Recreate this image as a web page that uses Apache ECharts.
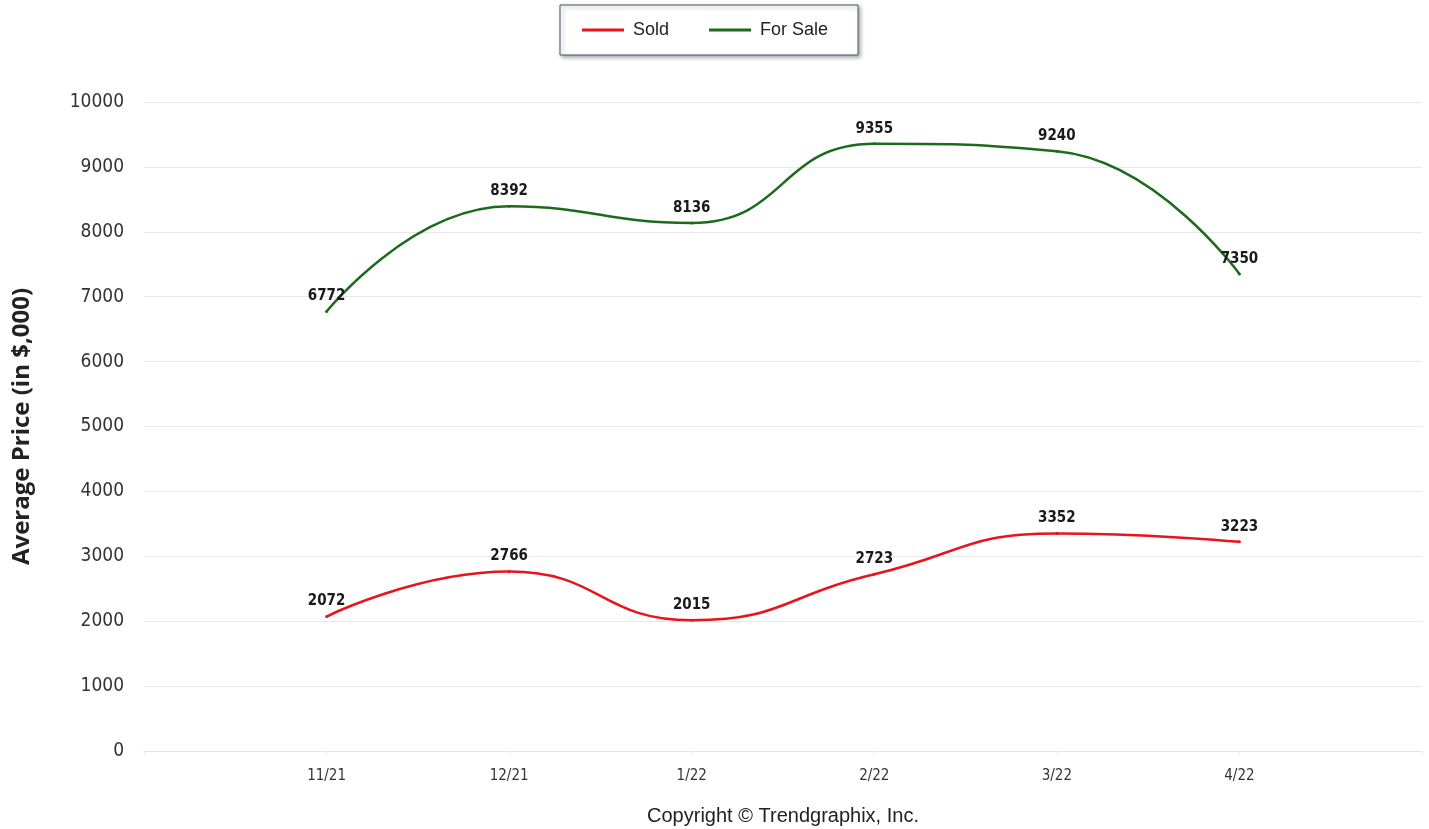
<!DOCTYPE html>
<html>
<head>
<meta charset="utf-8">
<script src="https://cdn.jsdelivr.net/npm/echarts@6/dist/echarts.min.js"></script>
<style>
html,body{margin:0;padding:0;background:#fff;}
#chart{width:1429px;height:829px;}
</style>
</head>
<body>
<div id="chart"></div>
<script>
var categories = ['11/21', '12/21', '1/22', '2/22', '3/22', '4/22'];
var soldValues = [2072, 2766, 2015, 2723, 3352, 3223];
var forSaleValues = [6772, 8392, 8136, 9355, 9240, 7350];
var yTicks = [0, 1000, 2000, 3000, 4000, 5000, 6000, 7000, 8000, 9000, 10000];

var narrow = "'Liberation Sans Narrow', 'DejaVu Sans Condensed', 'Open Sans', sans-serif";

// pad the category axis with one empty slot on each side
var axisCats = [''].concat(categories, ['']);
function pad(arr){ return [null].concat(arr, [null]); }

var chart = echarts.init(document.getElementById('chart'));
chart.setOption({
  animation: false,
  backgroundColor: '#ffffff',
  legend: {
    top: 5,
    left: 560,
    data: ['Sold', 'For Sale'],
    icon: 'rect',
    itemWidth: 42,
    itemHeight: 3,
    itemGap: 40,
    padding: [16, 30, 16, 22],
    borderColor: '#4a5560',
    borderWidth: 1,
    shadowColor: 'rgba(0,0,0,0.35)',
    shadowBlur: 4,
    shadowOffsetX: 2,
    shadowOffsetY: 2,
    backgroundColor: '#ffffff',
    textStyle: { fontFamily: 'Arial, Liberation Sans, sans-serif', fontSize: 18, color: '#222', padding: [0, 0, 0, 4] }
  },
  grid: { left: 144, right: 7, top: 102, bottom: 78, containLabel: false },
  xAxis: {
    type: 'category',
    boundaryGap: false,
    data: axisCats,
    axisLine: { show: true, lineStyle: { color: '#e3e3e3', width: 1 } },
    axisTick: { show: true, length: 4, lineStyle: { color: '#eeeeee' } },
    axisLabel: { margin: 18, fontFamily: narrow, fontSize: 15, color: '#333' },
    splitLine: { show: false }
  },
  yAxis: {
    type: 'value',
    min: yTicks[0],
    max: yTicks[yTicks.length - 1],
    interval: yTicks[1] - yTicks[0],
    name: 'Average Price (in $,000)',
    nameLocation: 'middle',
    nameGap: 110,
    nameTextStyle: { fontFamily: "'Open Sans', 'DejaVu Sans', sans-serif", fontSize: 24, fontWeight: 'bold', color: '#222' },
    axisLine: { show: false },
    axisTick: { show: false },
    axisLabel: { margin: 20, fontFamily: narrow, fontSize: 19, color: '#333', formatter: function(v){ return String(v); } },
    splitLine: { lineStyle: { color: '#e8e8e8', width: 1 } }
  },
  series: [
    {
      name: 'Sold',
      type: 'line',
      smooth: 0.5,
      data: pad(soldValues),
      showSymbol: true,
      symbol: 'circle',
      symbolSize: 3,
      color: '#e8141c',
      lineStyle: { color: '#e8141c', width: 2.5 },
      label: { show: true, position: 'top', distance: 6, fontFamily: narrow, fontSize: 15, fontWeight: 'bold', color: '#1a1a1a' }
    },
    {
      name: 'For Sale',
      type: 'line',
      smooth: 0.5,
      data: pad(forSaleValues),
      showSymbol: true,
      symbol: 'circle',
      symbolSize: 3,
      color: '#1c6a1c',
      lineStyle: { color: '#1c6a1c', width: 2.5 },
      label: { show: true, position: 'top', distance: 6, fontFamily: narrow, fontSize: 15, fontWeight: 'bold', color: '#1a1a1a' }
    }
  ],
  graphic: [
    {
      type: 'text',
      x: 783,
      y: 816,
      style: { text: 'Copyright \u00a9 Trendgraphix, Inc.', fontFamily: 'Arial, Liberation Sans, sans-serif', fontSize: 20, fill: '#222', align: 'center', verticalAlign: 'middle' }
    }
  ]
});
</script>
</body>
</html>
